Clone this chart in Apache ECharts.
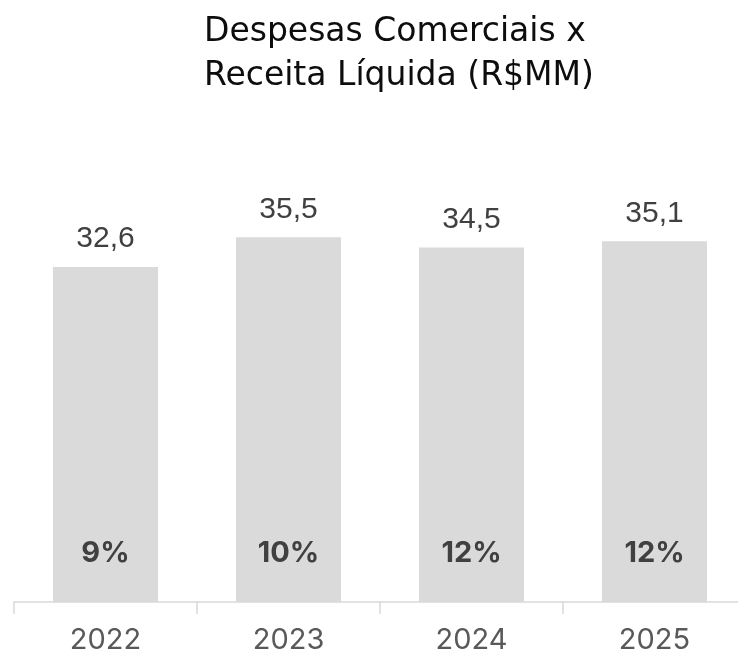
<!DOCTYPE html>
<html>
<head>
<meta charset="utf-8">
<script src="https://cdn.jsdelivr.net/npm/echarts@6/dist/echarts.min.js"></script>
<style>
  html, body { margin: 0; padding: 0; background: #fff; overflow: hidden; }
  /* o eixo continua além da borda direita, por isso a div é mais larga */
  #chart { width: 746px; height: 660px; }
</style>
</head>
<body>
<div id="chart"></div>
<script>
  // dados do gráfico
  var years = ['2022', '2023', '2024', '2025']
  var despesas = [32.6, 35.5, 34.5, 35.1]
  var percReceita = ['9%', '10%', '12%', '12%']

  var chart = echarts.init(document.getElementById('chart'))
  var option = {
    animation: false,
    title: {
      text: 'Despesas Comerciais x\nReceita Líquida (R$MM)',
      left: 199,
      top: 5,
      textStyle: {
        fontFamily: 'DejaVu Sans',
        fontWeight: 'normal',
        fontSize: 33,
        lineHeight: 44,
        color: '#0d0d0d'
      }
    },
    grid: { left: 14, right: 0, top: 191, height: 411 },
    xAxis: {
      type: 'category',
      data: years,
      axisLine: { lineStyle: { color: '#d9d9d9', width: 1.5 } },
      axisTick: { show: true, length: 12, lineStyle: { color: '#d9d9d9', width: 1.5 } },
      axisLabel: {
        margin: 24,
        fontFamily: 'Inter',
        fontSize: 29,
        color: '#595959'
      }
    },
    yAxis: {
      type: 'value',
      min: 0,
      max: 40,
      show: false
    },
    series: [
      {
        type: 'bar',
        data: despesas,
        barCategoryGap: '42.6%',
        itemStyle: { color: '#dadada' },
        label: {
          show: true,
          position: 'top',
          distance: 13,
          fontFamily: 'Liberation Sans',
          fontSize: 30,
          color: '#404040',
          formatter: function (p) {
            return p.value.toFixed(1).replace('.', ',')
          }
        }
      },
      {
        // só para o rótulo de % dentro da barra
        type: 'bar',
        data: despesas,
        barGap: '-100%',
        barCategoryGap: '42.6%',
        itemStyle: { color: 'transparent' },
        label: {
          show: true,
          position: 'insideBottom',
          distance: 34,
          fontFamily: 'Inter',
          fontWeight: 'bold',
          fontSize: 29,
          color: '#404040',
          formatter: function (p) {
            return percReceita[p.dataIndex]
          }
        }
      }
    ]
  }
  chart.setOption(option)
</script>
</body>
</html>
